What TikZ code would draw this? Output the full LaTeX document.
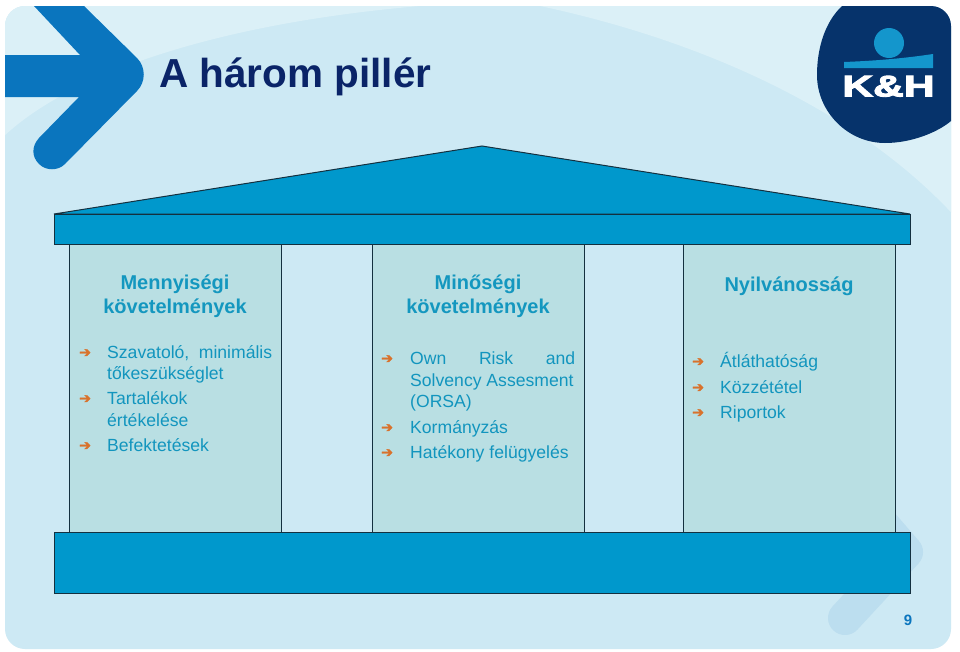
\documentclass[tikz,border=0pt]{standalone}
\usepackage{fontspec}
\setmainfont{Liberation Sans}
\newfontfamily\symfont[FakeBold=2.5]{DejaVu Sans}
\newfontfamily\logofont[BoldFeatures={FakeBold=3}]{Liberation Sans}
\definecolor{pagebg}{HTML}{CDE9F4}
\definecolor{pagelight}{HTML}{DBF0F7}
\definecolor{arrowblue}{HTML}{0A75BE}
\definecolor{faint}{HTML}{BCDEEF}
\definecolor{navy}{HTML}{0A2468}
\definecolor{logonavy}{HTML}{06336B}
\definecolor{logoblue}{HTML}{1496CC}
\definecolor{roofblue}{HTML}{0098CC}
\definecolor{pillar}{HTML}{B9DFE3}
\definecolor{headtxt}{HTML}{1497BF}
\definecolor{bodytxt}{HTML}{1295BE}
\definecolor{bul}{HTML}{D9722C}
\definecolor{edge}{HTML}{14303F}
\tikzset{
  part/.style={draw=edge,line width=1pt,fill=roofblue},
  pillarbox/.style={draw=edge,line width=1pt,fill=pillar},
  heading/.style={inner sep=0pt,anchor=base,text=headtxt,font=\fontsize{20}{20}\selectfont\bfseries},
  body/.style={inner sep=0pt,anchor=base west,text=bodytxt,font=\fontsize{17.6}{17.6}\selectfont},
  bullet/.style={inner sep=0pt,anchor=base,text=bul,font=\fontsize{14}{14}\selectfont\symfont}
}
\begin{document}
\begin{tikzpicture}[x=1pt,y=-1pt]
\useasboundingbox (0,0) rectangle (960,651);
\fill[white] (0,0) rectangle (960,651);
\begin{scope}
\clip[rounded corners=20pt] (5,6) rectangle (951,649);
\fill[pagebg] (0,0) rectangle (960,651);
% lighter swooshes
\fill[pagelight] (0,140) .. controls (60,80) and (200,25) .. (420,6) -- (0,0) -- cycle;
\fill[pagelight] (540,6) .. controls (700,40) and (860,110) .. (960,222) -- (960,0) -- (540,0) -- cycle;
% faint lower arrow
\draw[faint,line width=34pt,line cap=round,line join=round] (845,618) -- (906,552) -- (880,522);
% main arrow
\fill[arrowblue] (5,55) -- (80,55) -- (34,6) -- (84,6) -- (137,58)
  .. controls (146,67) and (146,82) .. (137,91)
  -- (65,164) .. controls (58,171) and (46,171) .. (39,164)
  .. controls (32,157) and (31,147) .. (39,138) -- (79,97) -- (5,97) -- cycle;
% logo
\fill[logonavy] (842,6) .. controls (825,22) and (817,48) .. (817,75)
  .. controls (817,112) and (848,143) .. (885,143)
  .. controls (912,143) and (938,132) .. (951,121) -- (951,6) -- cycle;
\fill[logoblue] (889,43) circle[radius=15];
\fill[logoblue] (844,62) .. controls (870,61) and (900,59) .. (933,54) -- (933,68) -- (844,68) -- cycle;
\end{scope}
\node[inner sep=0pt,anchor=base,text=white,xscale=1.42,font=\fontsize{30}{30}\selectfont\logofont\bfseries] (logo) at (888.5,96.5) {K\&H};
\node[inner sep=0pt,anchor=base west,text=navy,font=\fontsize{40.5}{41}\selectfont\bfseries] (title) at (159,87) {A három pillér};
% temple
\draw[part] (54,214) -- (482,146) -- (910,214) -- cycle;
\draw[pillarbox] (69,244) rectangle (281,532);
\draw[pillarbox] (372,244) rectangle (584,532);
\draw[pillarbox] (683,244) rectangle (895,532);
\draw[part] (54,214) rectangle (910,244);
\draw[part] (54,532) rectangle (910,593);
% headings
\node[heading] (h1a) at (175,289) {Mennyiségi};
\node[heading] (h1b) at (175,313) {követelmények};
\node[heading] (h2a) at (478,289) {Minőségi};
\node[heading] (h2b) at (478,313) {követelmények};
\node[heading] (h3a) at (789,291) {Nyilvánosság};
% column 1
\node[bullet] (b1a) at (85,357) {➔};
\node[body] (t1a) at (107,358) {\makebox[165pt][s]{Szavatoló, minimális}};
\node[body] (t1b) at (107,379) {tőkeszükséglet};
\node[bullet] (b1b) at (85,403) {➔};
\node[body] (t1c) at (107,404) {Tartalékok};
\node[body] (t1d) at (107,426) {értékelése};
\node[bullet] (b1c) at (85,450) {➔};
\node[body] (t1e) at (107,451) {Befektetések};
% column 2
\node[bullet] (b2a) at (387,363) {➔};
\node[body] (t2a) at (410,364) {\makebox[165pt][s]{Own Risk and}};
\node[body] (t2b) at (410,386) {Solvency Assesment};
\node[body] (t2c) at (410,407) {(ORSA)};
\node[bullet] (b2b) at (387,432) {➔};
\node[body] (t2d) at (410,433) {Kormányzás};
\node[bullet] (b2c) at (387,457) {➔};
\node[body] (t2e) at (410,458) {Hatékony felügyelés};
% column 3
\node[bullet] (b3a) at (698,366) {➔};
\node[body] (t3a) at (720,367) {Átláthatóság};
\node[bullet] (b3b) at (698,392) {➔};
\node[body] (t3b) at (720,393) {Közzététel};
\node[bullet] (b3c) at (698,417) {➔};
\node[body] (t3c) at (720,418) {Riportok};
% page number
\node[inner sep=0pt,anchor=base,text=arrowblue,font=\fontsize{15}{15}\selectfont\bfseries] (pg) at (908,625.5) {9};
\end{tikzpicture}
\end{document}
